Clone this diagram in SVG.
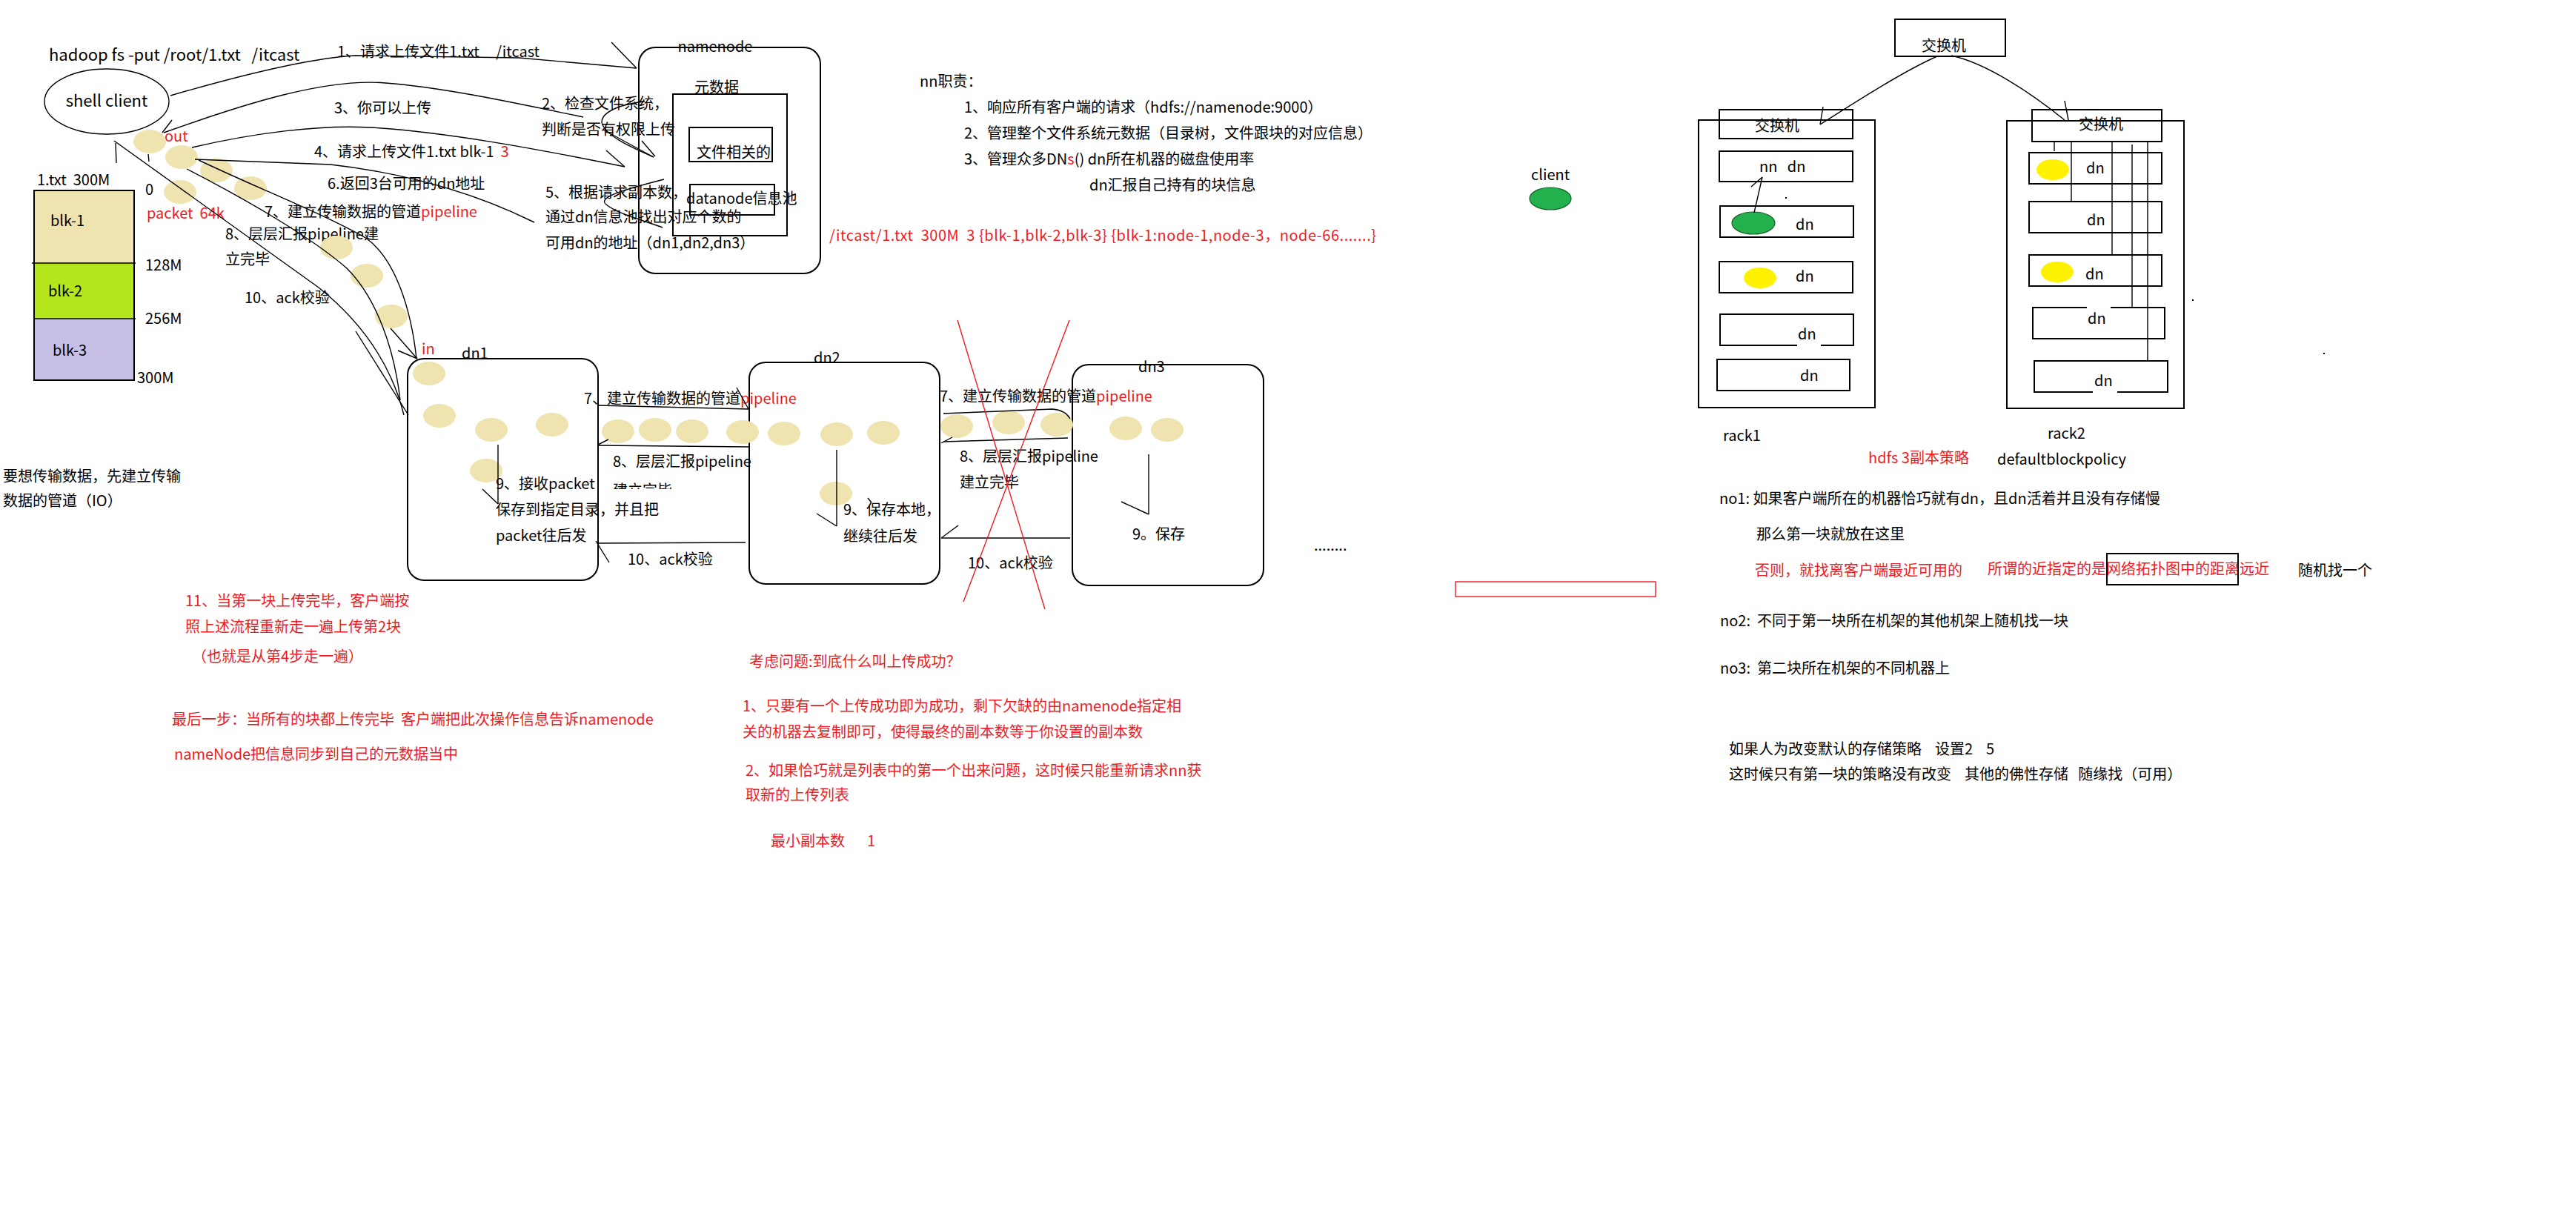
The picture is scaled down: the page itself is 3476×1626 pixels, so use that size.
<svg xmlns="http://www.w3.org/2000/svg" width="3476" height="1626" viewBox="0 0 3476 1626" xml:space="preserve">
<defs>
<style>
text{font-family:"Noto Sans CJK SC","Liberation Sans",sans-serif;font-size:20px;fill:#000;white-space:pre}
.r{fill:#ed1c24}
.big{font-size:22px}
.ln{fill:none;stroke:#000;stroke-width:1.4}
.bx{fill:none;stroke:#000;stroke-width:2}
.bead{fill:#efe4b0}
.rl{fill:none;stroke:#ed1c24;stroke-width:1.4}
</style>
<clipPath id="cut"><rect x="820" y="640" width="200" height="20"/></clipPath>
</defs>
<rect width="3476" height="1626" fill="#fff"/>
<g id="client">
<text x="66" y="82" class="big">hadoop fs -put /root/1.txt   /itcast</text>
<ellipse cx="144" cy="137" rx="84" ry="44" class="ln"/>
<text x="144" y="144" text-anchor="middle" class="big">shell client</text>
<text x="222" y="191" class="r">out</text>
<text x="198" y="295" class="r">packet  64k</text>
</g>
<g id="blocks">
<text x="50" y="250">1.txt  300M</text>
<rect x="46" y="257" width="135" height="98" fill="#efe4b0"/>
<rect x="46" y="355" width="135" height="75" fill="#b5e61d"/>
<rect x="46" y="430" width="135" height="83" fill="#c8bfe7"/>
<rect x="46" y="257" width="135" height="256" class="bx"/>
<line x1="43" y1="355" x2="183" y2="355" class="ln"/>
<line x1="46" y1="430" x2="183" y2="430" class="ln"/>
<text x="68" y="305">blk-1</text>
<text x="65" y="400">blk-2</text>
<text x="71" y="480">blk-3</text>
<text x="196" y="263">0</text>
<text x="196" y="365">128M</text>
<text x="196" y="437">256M</text>
<text x="185" y="517">300M</text>
</g>
<g id="namenode">
<rect x="862" y="64" width="245" height="305" rx="22" class="bx"/>
<text x="965" y="70" text-anchor="middle">namenode</text>
<text x="937" y="125">元数据</text>
<rect x="908" y="127" width="154" height="191" class="bx"/>
<rect x="930" y="172" width="112" height="46" class="bx"/>
<text x="940" y="213">文件相关的</text>
<rect x="931" y="249" width="114" height="41" class="bx"/>
<text x="926" y="275">datanode信息池</text>
</g>
<g id="steps">
<text x="455" y="77">1、请求上传文件1.txt     /itcast</text>
<text x="731" y="147">2、检查文件系统，</text>
<text x="731" y="182">判断是否有权限上传</text>
<text x="451" y="153">3、你可以上传</text>
<text x="424" y="212">4、请求上传文件1.txt blk-1  <tspan class="r">3</tspan></text>
<text x="442" y="255">6.返回3台可用的dn地址</text>
<text x="736" y="267">5、根据请求副本数，</text>
<text x="736" y="300">通过dn信息池找出对应个数的</text>
<text x="736" y="335">可用dn的地址（dn1,dn2,dn3）</text>
<text x="357" y="293">7、建立传输数据的管道<tspan class="r">pipeline</tspan></text>
<text x="304" y="323">8、层层汇报pipeline建</text>
<text x="304" y="357">立完毕</text>
<text x="330" y="409">10、ack校验</text>
<text x="569" y="478" class="r">in</text>
<text x="4" y="650">要想传输数据，先建立传输</text>
<text x="4" y="683">数据的管道（IO）</text>
</g>
<g id="nnduty">
<text x="1241" y="117">nn职责：</text>
<text x="1301" y="152">1、响应所有客户端的请求（hdfs://namenode:9000）</text>
<text x="1301" y="187">2、管理整个文件系统元数据（目录树，文件跟块的对应信息）</text>
<text x="1301" y="222">3、管理众多DN<tspan class="r">s</tspan>() dn所在机器的磁盘使用率</text>
<text x="1470" y="257">dn汇报自己持有的块信息</text>
<text x="1119" y="325" class="r" textLength="738" lengthAdjust="spacing">/itcast/1.txt  300M  3 {blk-1,blk-2,blk-3} {blk-1:node-1,node-3，node-66.......}</text>
</g>
<g id="dn1">
<rect x="550" y="484" width="257" height="299" rx="22" class="bx"/>
<text x="623" y="484">dn1</text>
<text x="669" y="660">9、接收packet</text>
<text x="669" y="695">保存到指定目录，并且把</text>
<text x="669" y="730">packet往后发</text>
</g>
<g id="dn2">
<rect x="1011" y="489" width="257" height="299" rx="22" class="bx"/>
<text x="1098" y="490">dn2</text>
<text x="1138" y="695">9、保存本地，</text>
<text x="1138" y="731">继续往后发</text>
</g>
<g id="dn3">
<rect x="1447" y="492" width="258" height="298" rx="22" class="bx"/>
<text x="1536" y="502">dn3</text>
<text x="1528" y="728">9。保存</text>
</g>
<g id="links">
<text x="788" y="545">7、建立传输数据的管道<tspan class="r">pipeline</tspan></text>
<text x="827" y="630">8、层层汇报pipeline</text>
<text x="827" y="669" clip-path="url(#cut)">建立完毕</text>
<text x="847" y="762">10、ack校验</text>
<text x="1268" y="542">7、建立传输数据的管道<tspan class="r">pipeline</tspan></text>
<text x="1295" y="623">8、层层汇报pipeline</text>
<text x="1295" y="658">建立完毕</text>
<text x="1306" y="767">10、ack校验</text>
<text x="1773" y="743">........</text>
</g>
<g id="beads" class="bead">
<ellipse cx="202" cy="191" rx="22" ry="16"/>
<ellipse cx="245" cy="212" rx="22" ry="16"/>
<ellipse cx="292" cy="230" rx="22" ry="16"/>
<ellipse cx="338" cy="254" rx="22" ry="16"/>
<ellipse cx="243" cy="259" rx="22" ry="16"/>
<ellipse cx="454" cy="334" rx="22" ry="16"/>
<ellipse cx="495" cy="372" rx="22" ry="16"/>
<ellipse cx="528" cy="427" rx="22" ry="16"/>
<ellipse cx="579" cy="504" rx="22" ry="16"/>
<ellipse cx="593" cy="561" rx="22" ry="16"/>
<ellipse cx="663" cy="580" rx="22" ry="16"/>
<ellipse cx="745" cy="573" rx="22" ry="16"/>
<ellipse cx="656" cy="635" rx="22" ry="16"/>
<ellipse cx="834" cy="582" rx="22" ry="16"/>
<ellipse cx="884" cy="580" rx="22" ry="16"/>
<ellipse cx="934" cy="582" rx="22" ry="16"/>
<ellipse cx="1002" cy="583" rx="22" ry="16"/>
<ellipse cx="1058" cy="585" rx="22" ry="16"/>
<ellipse cx="1129" cy="586" rx="22" ry="16"/>
<ellipse cx="1192" cy="584" rx="22" ry="16"/>
<ellipse cx="1128" cy="666" rx="22" ry="16"/>
<ellipse cx="1291" cy="575" rx="22" ry="16"/>
<ellipse cx="1361" cy="570" rx="22" ry="16"/>
<ellipse cx="1426" cy="573" rx="22" ry="16"/>
<ellipse cx="1519" cy="578" rx="22" ry="16"/>
<ellipse cx="1575" cy="580" rx="22" ry="16"/>
</g>
<g id="connectors">
<path class="ln" d="M230,129 C330,100 420,78 480,75 L700,78 L859,92"/>
<line class="ln" x1="825" y1="57" x2="859" y2="92"/>
<path class="ln" d="M221,179 C330,140 440,105 520,112 C600,118 700,140 787,158"/>
<line class="ln" x1="219" y1="179" x2="232" y2="162"/>
<path class="ln" d="M882,212 C850,198 815,182 812,165 C812,150 840,140 870,137"/>
<line class="ln" x1="814" y1="175" x2="882" y2="212"/>
<line class="ln" x1="866" y1="190" x2="884" y2="211"/>
<path class="ln" d="M259,199 C340,180 430,168 500,172 C600,178 720,200 843,225"/>
<line class="ln" x1="818" y1="203" x2="843" y2="225"/>
<path class="ln" d="M263,215 L446,222 C560,235 650,265 721,300"/>
<path class="ln" d="M896,242 C845,255 805,266 818,276 C832,288 870,298 894,307"/>
<line class="ln" x1="156" y1="193" x2="157" y2="220"/>
<line class="ln" x1="200" y1="208" x2="201" y2="218"/>
<path class="ln" d="M154,190 L430,388 C495,440 530,500 545,560"/>
<path class="ln" d="M268,216 C350,255 440,290 495,322 C535,352 555,420 562,484"/>
<path class="ln" d="M252,228 C330,268 420,320 468,362 C508,402 532,470 540,540"/>
<line class="ln" x1="537" y1="473" x2="563" y2="484"/>
<line class="ln" x1="527" y1="443" x2="563" y2="484"/>
<line class="ln" x1="480" y1="447" x2="551" y2="560"/>
<line class="ln" x1="672" y1="600" x2="672" y2="680"/>
<line class="ln" x1="651" y1="660" x2="672" y2="680"/>
<line class="ln" x1="807" y1="547" x2="1010" y2="552"/>
<line class="ln" x1="994" y1="523" x2="1010" y2="552"/>
<line class="ln" x1="807" y1="601" x2="1010" y2="603"/>
<line class="ln" x1="807" y1="600" x2="821" y2="593"/>
<line class="ln" x1="807" y1="733" x2="1006" y2="732"/>
<line class="ln" x1="804" y1="730" x2="822" y2="759"/>
<line class="ln" x1="1129" y1="607" x2="1129" y2="710"/>
<line class="ln" x1="1102" y1="693" x2="1129" y2="710"/>
<line class="ln" x1="1171" y1="672" x2="1176" y2="678"/>
<path class="ln" d="M1273,558 L1420,552 C1433,553 1440,558 1444,565"/>
<line class="ln" x1="1273" y1="596" x2="1441" y2="591"/>
<line class="ln" x1="1270" y1="598" x2="1285" y2="590"/>
<line class="ln" x1="1270" y1="726" x2="1444" y2="726"/>
<line class="ln" x1="1270" y1="726" x2="1293" y2="709"/>
<line class="ln" x1="1550" y1="613" x2="1550" y2="694"/>
<line class="ln" x1="1513" y1="677" x2="1550" y2="694"/>
<line class="rl" x1="1292" y1="432" x2="1410" y2="822"/>
<line class="rl" x1="1443" y1="432" x2="1300" y2="812"/>
</g>
<g id="notes">
<text x="250" y="818" class="r">11、当第一块上传完毕，客户端按</text>
<text x="250" y="853" class="r">照上述流程重新走一遍上传第2块</text>
<text x="259" y="893" class="r">（也就是从第4步走一遍）</text>
<text x="232" y="978" class="r">最后一步：当所有的块都上传完毕  客户端把此次操作信息告诉namenode</text>
<text x="235" y="1025" class="r">nameNode把信息同步到自己的元数据当中</text>
<text x="1011" y="900" class="r">考虑问题:到底什么叫上传成功？</text>
<text x="1002" y="960" class="r">1、只要有一个上传成功即为成功，剩下欠缺的由namenode指定相</text>
<text x="1002" y="995" class="r">关的机器去复制即可，使得最终的副本数等于你设置的副本数</text>
<text x="1006" y="1047" class="r">2、如果恰巧就是列表中的第一个出来问题，这时候只能重新请求nn获</text>
<text x="1006" y="1080" class="r">取新的上传列表</text>
<text x="1040" y="1142" class="r">最小副本数</text>
<text x="1170" y="1142" class="r">1</text>
<rect x="1964" y="785" width="270" height="20" fill="none" stroke="#ed1c24" stroke-width="1.4"/>
</g>
<g id="clientdot">
<text x="2066" y="243">client</text>
<ellipse cx="2092" cy="268" rx="28" ry="15" fill="#22b14c" stroke="#1a5e2c" stroke-width="1.2"/>
</g>
<g id="switch-top">
<rect x="2557" y="26" width="149" height="50" class="bx"/>
<text x="2593" y="69">交换机</text>
</g>
<g id="rack1">
<rect x="2292" y="162" width="238" height="388" class="bx"/>
<rect x="2320" y="148" width="180" height="39" class="bx"/>
<text x="2368" y="177">交换机</text>
<rect x="2320" y="204" width="180" height="41" class="bx"/>
<text x="2374" y="232">nn   dn</text>
<rect x="2321" y="278" width="180" height="42" class="bx"/>
<ellipse cx="2366" cy="301" rx="29" ry="15" fill="#22b14c" stroke="#1a5e2c" stroke-width="1.2"/>
<text x="2423" y="310">dn</text>
<rect x="2320" y="353" width="180" height="42" class="bx"/>
<ellipse cx="2375" cy="375" rx="22" ry="14" fill="#fff200"/>
<text x="2423" y="380">dn</text>
<path class="bx" d="M2425,466 L2321,466 L2321,424 L2501,424 L2501,466 L2457,466"/>
<text x="2426" y="458">dn</text>
<rect x="2317" y="485" width="179" height="42" class="bx"/>
<text x="2429" y="514">dn</text>
<line class="ln" x1="2367" y1="287" x2="2378" y2="239"/>
<line class="ln" x1="2363" y1="252" x2="2378" y2="239"/>
<text x="2325" y="595">rack1</text>
</g>
<g id="rack2">
<rect x="2708" y="163" width="239" height="388" class="bx"/>
<rect x="2742" y="148" width="175" height="43" class="bx"/>
<text x="2805" y="175">交换机</text>
<rect x="2738" y="206" width="179" height="42" class="bx"/>
<ellipse cx="2770" cy="229" rx="22" ry="14" fill="#fff200"/>
<text x="2815" y="234">dn</text>
<rect x="2738" y="272" width="179" height="42" class="bx"/>
<text x="2816" y="304">dn</text>
<rect x="2738" y="344" width="179" height="42" class="bx"/>
<ellipse cx="2776" cy="367" rx="22" ry="14" fill="#fff200"/>
<text x="2814" y="377">dn</text>
<path class="bx" d="M2816,415 L2743,415 L2743,457 L2921,457 L2921,415 L2848,415"/>
<text x="2817" y="437">dn</text>
<path class="bx" d="M2824,529 L2745,529 L2745,487 L2925,487 L2925,529 L2857,529"/>
<text x="2826" y="521">dn</text>
<line class="ln" x1="2772" y1="191" x2="2772" y2="204"/>
<line class="ln" x1="2795" y1="191" x2="2795" y2="271"/>
<line class="ln" x1="2850" y1="191" x2="2850" y2="344"/>
<line class="ln" x1="2877" y1="195" x2="2877" y2="414"/>
<line class="ln" x1="2898" y1="191" x2="2898" y2="487"/>
<text x="2763" y="592">rack2</text>
</g>
<g id="rackconn">
<path class="ln" d="M2614,76 C2570,95 2500,140 2456,168"/>
<line class="ln" x1="2460" y1="144" x2="2456" y2="168"/>
<path class="ln" d="M2633,75 C2680,85 2740,125 2786,162"/>
<line class="ln" x1="2786" y1="136" x2="2791" y2="162"/>
<rect x="2409" y="266" width="2" height="2"/>
<rect x="2958" y="404" width="2" height="2"/>
<rect x="3135" y="476" width="2" height="2"/>
</g>
<g id="policy">
<text x="2521" y="625" class="r">hdfs 3副本策略</text>
<text x="2695" y="627">defaultblockpolicy</text>
<text x="2320" y="680">no1: 如果客户端所在的机器恰巧就有dn，且dn活着并且没有存储慢</text>
<text x="2370" y="728">那么第一块就放在这里</text>
<text x="2368" y="777" class="r">否则，就找离客户端最近可用的</text>
<text x="2682" y="775" class="r">所谓的近指定的是网络拓扑图中的距离远近</text>
<rect x="2843" y="747" width="177" height="42" class="bx"/>
<text x="3101" y="777">随机找一个</text>
<text x="2321" y="845">no2:  不同于第一块所在机架的其他机架上随机找一块</text>
<text x="2321" y="909">no3:  第二块所在机架的不同机器上</text>
<text x="2333" y="1018">如果人为改变默认的存储策略    设置2    5</text>
<text x="2333" y="1052">这时候只有第一块的策略没有改变    其他的佛性存储   随缘找（可用）</text>
</g>
</svg>
